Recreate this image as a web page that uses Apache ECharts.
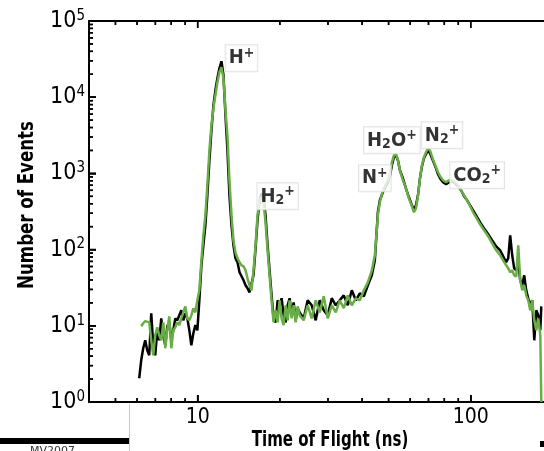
<!DOCTYPE html>
<html><head><meta charset="utf-8">
<script src="https://cdn.jsdelivr.net/npm/echarts@6/dist/echarts.min.js"></script>
<style>html,body{margin:0;padding:0;background:#fff}#c{width:544px;height:451px}</style>
</head><body><div id="c"></div>
<script>
const tof = [6.108,6.212,6.318,6.426,6.535,6.647,6.760,6.875,6.992,7.112,7.233,7.356,7.482,7.609,7.739,7.871,8.005,8.142,8.281,8.422,8.565,8.711,8.860,9.011,9.165,9.321,9.480,9.642,9.806,9.973,10.14,10.32,10.49,10.67,10.85,11.04,11.23,11.42,11.61,11.81,12.01,12.22,12.43,12.64,12.85,13.07,13.30,13.52,13.75,13.99,14.23,14.47,14.72,14.97,15.22,15.48,15.74,16.01,16.29,16.56,16.85,17.13,17.43,17.72,18.03,18.33,18.65,18.96,19.29,19.62,19.95,20.29,20.64,20.99,21.35,21.71,22.08,22.46,22.84,23.23,23.63,24.44,25.28,26.15,27.05,27.98,28.94,29.94,30.97,32.03,33.13,34.27,35.45,36.67,37.93,39.24,40.59,41.98,43.42,44.54,45.68,46.46,47.65,48.88,49.71,50.56,51.42,52.30,53.19,54.10,55.02,56.43,57.88,59.37,60.89,61.93,62.99,64.06,65.15,66.26,67.39,68.54,69.71,70.90,72.11,73.34,74.59,75.86,77.16,79.14,81.17,83.26,85.40,87.59,89.84,92.15,94.52,96.95,99.44,102.0,104.6,108.2,111.9,115.8,119.8,123.9,128.1,131.4,134.8,137.1,139.4,141.8,144.2,146.7,149.2,151.7,154.3,156.9,159.6,162.3,165.1,167.9,170.8,173.7,176.7,179.7,181.2];
const blackCounts = [2.05,3.53,5.07,6.45,4.77,4.10,14.6,5.55,4.10,8.73,6.45,12.5,7.51,5.55,9.85,11.1,6.45,8.73,12.5,11.8,12.5,16.0,11.8,14.6,12.5,8.73,5.55,7.97,10.2,8.73,21.6,62.2,114,208,516,1486,3678,7830,12320,17700,23950,29590,19390,5788,2010,516,208,114,76.9,68.1,50.4,53.5,39.6,34.0,31.1,27.5,26.7,46.0,104,242,444,548,471,282,114,53.5,25.1,12.5,11.1,21.6,18.6,23.0,13.7,11.1,18.6,23.0,13.7,20.3,11.8,17.0,15.0,12.5,21.6,18.6,11.8,21.6,16.0,13.7,23.0,18.6,21.6,25.1,18.6,29.2,21.6,26.7,24.4,34.0,46.0,72.4,309,444,565,677,764,916,1277,1627,1728,1486,1098,863,638,486,381,328,381,516,863,1239,1578,1781,2010,1836,1578,1357,1167,973,863,764,719,764,788,742,677,600,501,444,381,328,282,228,190,159,132,110,97.9,81.7,68.1,76.9,154,84.2,56.8,53.5,68.1,39.6,34.0,46.0,29.2,23.0,18.6,21.6,6.45,16.0,13.7,8.73,18.0];
const greenCounts = [null,9.85,10.8,11.5,11.8,11.1,6.45,4.10,7.51,9.56,7.51,6.45,11.1,5.07,8.73,13.3,5.07,8.73,9.56,11.1,10.2,12.5,15.0,18.0,12.5,11.8,13.7,17.0,15.0,21.6,29.2,72.4,154,282,698,2010,4278,7150,10590,15690,21220,24690,17700,6733,3162,812,282,132,92.2,76.9,68.1,62.2,60.4,53.5,42.0,34.0,29.2,53.5,114,282,444,486,418,228,97.9,46.0,21.6,11.1,16.0,11.1,21.6,12.5,10.2,18.6,11.8,21.6,12.5,18.6,11.1,18.0,13.7,11.8,18.6,12.5,21.6,15.0,24.4,12.5,18.6,15.0,21.6,17.0,25.1,18.6,23.0,21.6,29.2,37.2,53.5,84.2,282,418,600,719,812,973,1399,1728,1836,1486,1098,812,638,471,370,309,348,501,863,1277,1627,1892,2135,2010,1676,1399,1203,1034,916,812,764,812,812,764,698,600,516,444,370,309,265,215,179,150,121,97.9,84.2,72.4,62.2,56.8,50.4,53.5,46.0,44.6,114,39.6,29.2,34.0,25.1,21.6,16.0,21.6,11.8,8.73,12.5,7.51,1];

const xRange = [4, 200];
const yRange = [1, 100000];
const xMajorTicks = [10, 100];
const xMinorTicks = [5, 6, 7, 8, 9, 20, 30, 40, 50, 60, 70, 80, 90];
const yMajorTicks = [1, 10, 100, 1000, 10000, 100000];
const yMinorTicks = [2,3,4,5,6,7,8,9,20,30,40,50,60,70,80,90,200,300,400,500,600,700,800,900,2000,3000,4000,5000,6000,7000,8000,9000,20000,30000,40000,50000,60000,70000,80000,90000];

const annotationLabels = ['H{sup|+}', 'H{sub|2}{sup|+}', 'N{sup|+}', 'H{sub|2}O{sup|+}', 'N{sub|2}{sup|+}', 'CO{sub|2}{sup|+}'];
const annotationTof = [14.47, 19.62, 44.54, 51.42, 78.47, 105.5];
const annotationCounts = [32400, 500, 863, 2719, 3162, 944];

const xTitle = 'Time of Flight (ns)';
const yTitle = 'Number of Events';

const FONT = '"Liberation Sans Narrow","DejaVu Sans Condensed",sans-serif';
const MAJOR_LEN = 7, MINOR_LEN = 4, TICK_W = 1.5;

// ---- tick marks, placed through the chart's own scales ----
// (a) custom series using api.coord
const xTickData = xMajorTicks.map(v => [v, yRange[0], MAJOR_LEN]).concat(xMinorTicks.map(v => [v, yRange[0], MINOR_LEN]));
const yTickData = yMajorTicks.map(v => [xRange[0], v, MAJOR_LEN]).concat(yMinorTicks.map(v => [xRange[0], v, MINOR_LEN]));
function renderXTick(params, api) {
  const v = api.value(0), len = api.value(2);
  const b = api.coord([v, yRange[0]]);
  const t = api.coord([v, yRange[1]]);
  return { type: 'group', children: [
    { type: 'line', shape: { x1: b[0], y1: b[1], x2: b[0], y2: b[1] - len }, style: { stroke: '#000', lineWidth: TICK_W } },
    { type: 'line', shape: { x1: t[0], y1: t[1], x2: t[0], y2: t[1] + len }, style: { stroke: '#000', lineWidth: TICK_W } }
  ] };
}
function renderYTick(params, api) {
  const v = api.value(1), len = api.value(2);
  const l = api.coord([xRange[0], v]);
  return { type: 'line', shape: { x1: l[0], y1: l[1], x2: l[0] + len, y2: l[1] }, style: { stroke: '#000', lineWidth: TICK_W } };
}
// (b) scatter series drawing each tick as a thin rectangle symbol
function tickScatter(points, size, offset) {
  return { type: 'scatter', xAxisIndex: 0, yAxisIndex: 0, silent: true, clip: false, z: 6,
    symbol: 'rect', symbolSize: size, symbolOffset: offset,
    itemStyle: { color: '#000', opacity: 1 }, data: points };
}
const tickScatters = [
  tickScatter(xMajorTicks.map(v => [v, yRange[0]]), [TICK_W, MAJOR_LEN], [0, -MAJOR_LEN / 2]),
  tickScatter(xMinorTicks.map(v => [v, yRange[0]]), [TICK_W, MINOR_LEN], [0, -MINOR_LEN / 2]),
  tickScatter(xMajorTicks.map(v => [v, yRange[1]]), [TICK_W, MAJOR_LEN], [0, MAJOR_LEN / 2]),
  tickScatter(xMinorTicks.map(v => [v, yRange[1]]), [TICK_W, MINOR_LEN], [0, MINOR_LEN / 2]),
  tickScatter(yMajorTicks.map(v => [xRange[0], v]), [MAJOR_LEN, TICK_W], [MAJOR_LEN / 2, 0]),
  tickScatter(yMinorTicks.map(v => [xRange[0], v]), [MINOR_LEN, TICK_W], [MINOR_LEN / 2, 0])
];

const chart = echarts.init(document.getElementById('c'));
const annData = annotationLabels.map((l, i) => ({ name: l, value: [annotationTof[i], annotationCounts[i]] }));
const supSub = {
  sup: { fontFamily: FONT, fontWeight: 'bold', fontSize: 14, color: '#000', padding: [0, 0, 10, 0] },
  sub: { fontFamily: FONT, fontWeight: 'bold', fontSize: 14, color: '#000', padding: [9, 0, 0, 0] }
};
chart.setOption({
  animation: false,
  grid: { left: 89, right: -9, top: 21, bottom: 49, outerBoundsMode: 'none' },
  xAxis: [
    { type: 'log', min: xRange[0], max: xRange[1], position: 'bottom',
      axisLine: { lineStyle: { color: '#000', width: 2 } },
      axisTick: { show: true, inside: true, length: MAJOR_LEN, lineStyle: { color: '#000', width: TICK_W } },
      axisLabel: { showMinLabel: false, showMaxLabel: false, fontFamily: FONT, fontSize: 21, color: '#000', margin: 5 },
      splitLine: { show: false } },
    { type: 'value', min: 0, max: 1, position: 'top',
      axisLine: { show: true, lineStyle: { color: '#000', width: 2 } },
      axisTick: { show: false }, axisLabel: { show: false }, splitLine: { show: false } }
  ],
  yAxis: [
    { type: 'log', min: yRange[0], max: yRange[1], position: 'left',
      axisLine: { show: true, lineStyle: { color: '#000', width: 2 } },
      axisTick: { show: true, inside: true, length: MAJOR_LEN, lineStyle: { color: '#000', width: TICK_W } },
      axisLabel: { fontFamily: FONT, fontSize: 23, color: '#000', margin: 4,
        formatter: v => '10{sup|' + Math.round(Math.log10(v)) + '}',
        rich: { sup: { fontFamily: FONT, fontSize: 15, color: '#000', padding: [0, 0, 10, 0] } } },
      splitLine: { show: false } }
  ],
  series: [
    { type: 'line', name: 'black', showSymbol: false, z: 2,
      lineStyle: { color: '#000', width: 2.5 },
      data: tof.map((t, i) => [t, blackCounts[i]]) },
    { type: 'custom', encode: { x: 0, y: 1 }, renderItem: renderXTick, data: xTickData },
    { type: 'custom', encode: { x: 0, y: 1 }, renderItem: renderYTick, data: yTickData },
    { type: 'line', name: 'green', showSymbol: false, z: 3,
      lineStyle: { color: '#68ad45', width: 2.5 },
      data: tof.map((t, i) => [t, greenCounts[i]]).filter(d => d[1] !== null) }
  ].concat(tickScatters).concat([
    { type: 'scatter', name: 'labels', z: 5, symbolSize: 2,
      itemStyle: { color: 'rgba(0,0,0,0)' },
      label: { show: true, position: 'inside', formatter: p => p.name,
        fontFamily: FONT, fontWeight: 'bold', fontSize: 20, color: '#000',
        backgroundColor: '#fff', borderColor: '#dcdcdc', borderWidth: 1, padding: [1, 3, 1, 3],
        rich: supSub },
      data: annData }
  ]),
  graphic: [
    { type: 'text', x: 330, y: 440, scaleX: 0.76, z: 10,
      style: { text: xTitle, fontFamily: FONT, fontWeight: 'bold', fontSize: 22, fill: '#000', align: 'center', verticalAlign: 'middle' } },
    { type: 'text', x: 28, y: 205, rotation: Math.PI / 2, scaleX: 0.88, z: 10,
      style: { text: yTitle, fontFamily: FONT, fontWeight: 'bold', fontSize: 21, fill: '#000', align: 'center', verticalAlign: 'middle' } },
    { type: 'rect', shape: { x: 0, y: 438, width: 129, height: 6 }, style: { fill: '#000' } },
    { type: 'line', shape: { x1: 129.5, y1: 404, x2: 129.5, y2: 451 }, style: { stroke: '#c8c8c8', lineWidth: 1 } },
    { type: 'rect', shape: { x: 540, y: 441, width: 4, height: 6 }, style: { fill: '#000' } },
    { type: 'text', x: 30, y: 446, style: { text: 'MV2007', fontSize: 11, fontFamily: 'DejaVu Sans', fill: '#333' } }
  ]
});
</script></body></html>
